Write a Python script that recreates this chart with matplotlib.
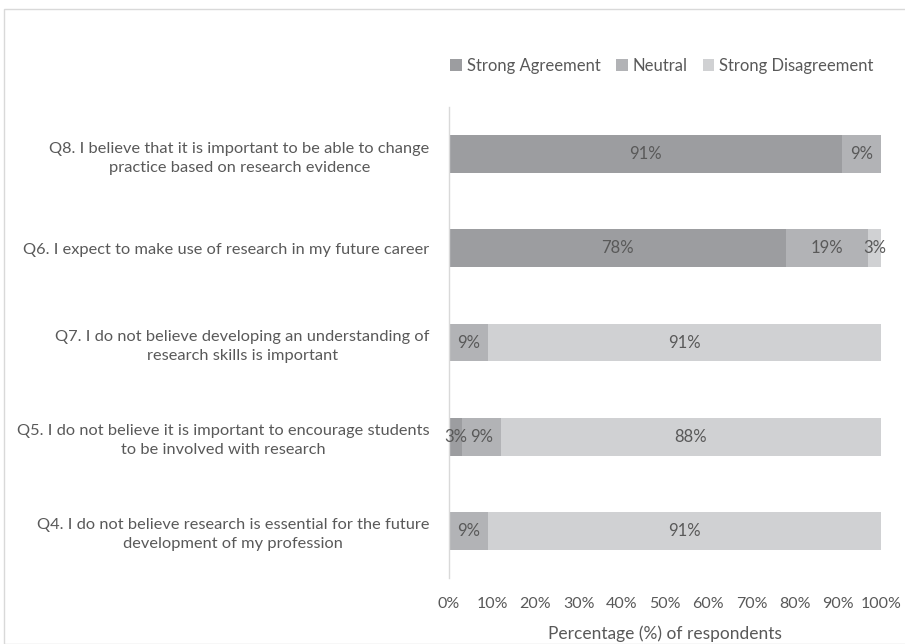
import matplotlib
matplotlib.use("Agg")
import matplotlib.pyplot as plt
from matplotlib.patches import Rectangle

plt.rcParams['font.family'] = ['Lato', 'DejaVu Sans']

categories = [
    "Q8. I believe that it is important to be able to change\npractice based on research evidence",
    "Q6. I expect to make use of research in my future career",
    "Q7. I do not believe developing an understanding of\nresearch skills is important",
    "Q5. I do not believe it is important to encourage students\nto be involved with research",
    "Q4. I do not believe research is essential for the future\ndevelopment of my profession",
]
strong_agreement = [91, 78, 0, 3, 0]
neutral = [9, 19, 9, 9, 9]
strong_disagreement = [0, 3, 91, 88, 91]
series_names = ["Strong Agreement", "Neutral", "Strong Disagreement"]
colors = ["#9c9da0", "#b2b3b6", "#d0d1d3"]
xticks = [0, 10, 20, 30, 40, 50, 60, 70, 80, 90, 100]

TEXT = "#595959"
W, H = 905, 644
fig = plt.figure(figsize=(W / 100, H / 100), dpi=100)
fig.patches.append(Rectangle((4 / W, 0), 1, 1 - 9 / H, transform=fig.transFigure,
                             fill=False, edgecolor="#d9d9d9", linewidth=1.0, zorder=0))

ax = fig.add_axes([449 / W, 1 - 578 / H, (881 - 449) / W, (578 - 107) / H])
ypos = list(range(len(categories)))
left = [0] * len(categories)
for name, vals, c in zip(series_names, [strong_agreement, neutral, strong_disagreement], colors):
    bars = ax.barh(ypos, vals, left=left, height=0.4, color=c, label=name)
    for b, v, l in zip(bars, vals, left):
        if v > 0:
            ax.text(l + v / 2, b.get_y() + b.get_height() / 2, f"{v}%",
                    ha="center", va="center", color=TEXT, fontsize=12)
    left = [a + b for a, b in zip(left, vals)]

ax.set_xlim(0, 100)
ax.set_ylim(len(categories) - 0.5, -0.5)
ax.set_xticks(xticks)
ax.set_xticklabels([f"{t}%" for t in xticks], color=TEXT, fontsize=11.5)
ax.set_yticks(ypos)
ax.set_yticklabels(categories, color=TEXT, fontsize=11.8, multialignment="center",
                   linespacing=1.45)
ax.tick_params(axis="both", length=0)
ax.tick_params(axis="y", pad=14)
ax.tick_params(axis="x", pad=14)
for s in ["top", "right", "bottom"]:
    ax.spines[s].set_visible(False)
ax.spines["left"].set_color("#d9d9d9")
ax.spines["left"].set_linewidth(1.0)
ax.set_xlabel("Percentage (%) of respondents", color=TEXT, fontsize=12.5, labelpad=10)

leg = fig.legend(loc="center", bbox_to_anchor=(662 / W, 1 - 66 / H), ncol=3, frameon=False,
                 fontsize=12, handlelength=0.7, handleheight=0.7, handletextpad=0.3,
                 columnspacing=0.9, labelcolor=TEXT)

fig.savefig("out.png", dpi=100)
